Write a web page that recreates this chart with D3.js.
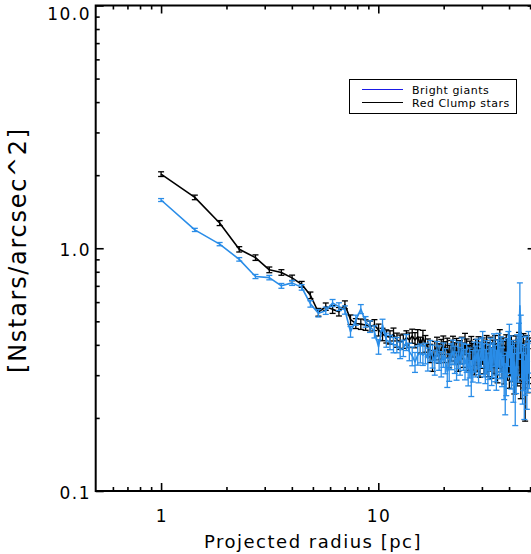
<!DOCTYPE html>
<html>
<head>
<meta charset="utf-8">
<script src="https://cdn.jsdelivr.net/npm/d3@7"></script>
<style>
  html, body { margin: 0; padding: 0; background: #fff; }
  svg { display: block; }
  text { font-family: "DejaVu Sans", sans-serif; fill: #000; }
</style>
</head>
<body>
<svg id="chart" width="531" height="554"></svg>
<script>
// ---------------- data ----------------
const radius = [
  1.00,1.43,1.86,2.29,2.72,3.15,3.58,4.01,4.44,4.87,
  5.30,5.73,6.16,6.59,7.02,7.45,7.88,8.31,8.74,9.17,
  9.60,10.03,10.46,10.89,11.32,11.75,12.18,12.61,13.04,13.47,
  13.90,14.33,14.76,15.19,15.62,16.05,16.48,16.91,17.34,17.77,
  18.20,18.63,19.06,19.49,19.92,20.35,20.78,21.21,21.64,22.07,
  22.50,22.93,23.36,23.79,24.22,24.65,25.08,25.51,25.94,26.37,
  26.80,27.23,27.66,28.09,28.52,28.95,29.38,29.81,30.24,30.67,
  31.10,31.53,31.96,32.39,32.82,33.25,33.68,34.11,34.54,34.97,
  35.40,35.83,36.26,36.69,37.12,37.55,37.98,38.41,38.84,39.27,
  39.70,40.13,40.56,40.99,41.42,41.85,42.28,42.71,43.14,43.57,
  44.00,44.43,44.86,45.29,45.72,46.15,46.58,47.01,47.44,47.87,
  48.30,48.73,49.16,49.59
];

const redClump = [
  2.02,1.62,1.27,0.99,0.915,0.815,0.795,0.755,0.71,0.64,
  0.545,0.575,0.56,0.548,0.585,0.508,0.49,0.487,0.483,0.476,
  0.483,0.461,0.442,0.434,0.43,0.442,0.419,0.411,0.415,0.428,
  0.419,0.435,0.419,0.432,0.40,0.428,
  0.405,0.39,0.37,0.345,0.38,0.395,0.37,0.385,0.40,0.375,
  0.39,0.36,0.38,0.395,0.37,0.385,0.35,0.375,0.39,0.365,
  0.405,0.38,0.355,0.37,0.39,0.36,0.345,0.375,0.355,0.385,
  0.34,0.365,0.38,0.35,0.37,0.39,0.345,0.36,0.38,0.34,
  0.37,0.355,0.385,0.35,0.33,0.37,0.41,0.36,0.345,0.375,
  0.33,0.36,0.385,0.34,0.365,0.32,0.355,0.38,0.34,0.36,
  0.31,0.35,0.375,0.33,0.36,0.39,0.34,0.31,0.37,0.345,
  0.38,0.33,0.26,0.35,0.37,0.32,0.345,0.36
];
const redClumpErr = [
  0.045,0.035,0.03,0.025,0.024,0.022,0.021,0.02,0.02,0.02,
  0.02,0.02,0.021,0.022,0.022,0.023,0.023,0.024,0.024,0.025,
  0.025,0.026,0.026,0.027,0.027,0.027,0.028,0.028,0.028,0.029,
  0.029,0.029,0.03,0.03,0.03,0.031,
  0.032,0.033,0.032,0.034,0.033,0.035,0.034,0.036,0.035,0.037,
  0.036,0.038,0.037,0.039,0.038,0.04,0.039,0.041,0.04,0.042,
  0.041,0.043,0.042,0.044,0.043,0.045,0.044,0.046,0.045,0.047,
  0.046,0.045,0.047,0.046,0.048,0.047,0.049,0.048,0.05,0.049,
  0.048,0.05,0.052,0.049,0.051,0.05,0.052,0.051,0.053,0.052,
  0.054,0.053,0.055,0.054,0.056,0.055,0.057,0.056,0.058,0.057,
  0.059,0.058,0.06,0.059,0.061,0.06,0.062,0.07,0.063,0.062,
  0.065,0.064,0.066,0.065,0.067,0.066,0.068,0.067
];

const brightGiants = [
  1.58,1.19,1.04,0.90,0.765,0.757,0.70,0.72,0.69,0.59,
  0.54,0.553,0.595,0.575,0.557,0.453,0.506,0.562,0.498,0.476,
  0.453,0.393,0.483,0.419,0.41,0.40,0.40,0.381,0.388,0.41,
  0.375,0.36,0.34,0.363,0.37,0.363,
  0.37,0.35,0.38,0.36,0.34,0.375,0.355,0.335,0.365,0.345,
  0.31,0.325,0.36,0.375,0.35,0.33,0.365,0.345,0.38,0.36,
  0.335,0.355,0.32,0.34,0.295,0.33,0.36,0.345,0.37,0.33,
  0.355,0.375,0.40,0.35,0.33,0.36,0.315,0.345,0.37,0.33,
  0.35,0.385,0.34,0.32,0.36,0.385,0.35,0.37,0.33,0.355,
  0.30,0.27,0.31,0.36,0.39,0.42,0.37,0.33,0.35,0.30,
  0.34,0.255,0.32,0.37,0.35,0.42,0.58,0.45,0.36,0.30,
  0.33,0.27,0.32,0.36,0.29,0.33,0.38,0.34
];
const brightGiantsErr = [
  0.022,0.018,0.016,0.015,0.015,0.016,0.016,0.017,0.018,0.018,
  0.019,0.019,0.02,0.021,0.022,0.023,0.024,0.024,0.025,0.026,
  0.026,0.027,0.027,0.028,0.028,0.029,0.029,0.03,0.03,0.031,
  0.031,0.032,0.032,0.033,0.033,0.034,
  0.036,0.038,0.037,0.039,0.04,0.038,0.041,0.04,0.042,0.041,
  0.043,0.042,0.044,0.043,0.045,0.044,0.046,0.045,0.047,0.046,
  0.048,0.047,0.049,0.048,0.05,0.049,0.051,0.05,0.052,0.051,
  0.053,0.052,0.054,0.055,0.053,0.056,0.055,0.057,0.056,0.058,
  0.057,0.059,0.058,0.06,0.059,0.061,0.06,0.062,0.061,0.063,
  0.062,0.064,0.063,0.065,0.064,0.066,0.065,0.067,0.066,0.068,
  0.067,0.069,0.068,0.07,0.069,0.071,0.14,0.08,0.07,0.072,
  0.071,0.073,0.072,0.074,0.073,0.075,0.074,0.076
];

const xMajorTicks = [1, 10];
const xTickLabels = ["1", "10"];
const xMinorTicks = [0.6,0.7,0.8,0.9,2,3,4,5,6,7,8,9,20,30,40,50];
const yMajorTicks = [0.1, 1, 10];
const yTickLabels = ["0.1", "1.0", "10.0"];
const yMinorTicks = [0.2,0.3,0.4,0.5,0.6,0.7,0.8,0.9,2,3,4,5,6,7,8,9];

const seriesNames = ["Bright giants", "Red Clump stars"];
const xTitle = "Projected radius [pc]";
const yTitle = "[Nstars/arcsec^2]";

// ---------------- drawing ----------------
const svg = d3.select("#chart");
const plotL = 95.7, plotR = 535.6, plotT = 5.5, plotB = 491;
const x = d3.scaleLog().domain([0.5, 53]).range([plotL, plotR]);
const y = d3.scaleLog().domain([0.1, 10]).range([plotB, plotT]);

const axisColor = "#000";
const blue = "#2a8de8";

function rows(vals, errs) {
  return radius.map((r, i) => ({ r, v: vals[i], e: errs[i] }));
}
const rc = rows(redClump, redClumpErr);
const bg = rows(brightGiants, brightGiantsErr);

function drawSeries(data, color) {
  const g = svg.append("g");
  g.append("path")
    .datum(data)
    .attr("fill", "none")
    .attr("stroke", color)
    .attr("stroke-width", 1.6)
    .attr("stroke-linejoin", "round")
    .attr("d", d3.line().x(d => x(d.r)).y(d => y(d.v)));
  const eb = g.selectAll("g.eb").data(data).join("g").attr("class", "eb")
    .attr("stroke", color).attr("stroke-width", 1.3);
  eb.append("line")
    .attr("x1", d => x(d.r)).attr("x2", d => x(d.r))
    .attr("y1", d => y(d.v - d.e)).attr("y2", d => y(d.v + d.e));
  eb.append("line")
    .attr("x1", d => x(d.r) - 3).attr("x2", d => x(d.r) + 3)
    .attr("y1", d => y(d.v - d.e)).attr("y2", d => y(d.v - d.e));
  eb.append("line")
    .attr("x1", d => x(d.r) - 3).attr("x2", d => x(d.r) + 3)
    .attr("y1", d => y(d.v + d.e)).attr("y2", d => y(d.v + d.e));
}
drawSeries(rc, "#000");
drawSeries(bg, blue);

// axes (major + minor), on all four sides
function styleAxis(g) {
  g.selectAll(".domain").remove();
  g.selectAll(".tick line").attr("stroke", axisColor).attr("stroke-width", 1.6);
  g.selectAll(".tick text").remove();
}
svg.append("g").attr("transform", `translate(0,${plotB})`)
  .call(d3.axisTop(x).tickValues(xMajorTicks).tickSize(8)).call(styleAxis);
svg.append("g").attr("transform", `translate(0,${plotB})`)
  .call(d3.axisTop(x).tickValues(xMinorTicks).tickSize(4)).call(styleAxis);
svg.append("g").attr("transform", `translate(0,${plotT})`)
  .call(d3.axisBottom(x).tickValues(xMajorTicks).tickSize(8)).call(styleAxis);
svg.append("g").attr("transform", `translate(0,${plotT})`)
  .call(d3.axisBottom(x).tickValues(xMinorTicks).tickSize(4)).call(styleAxis);
svg.append("g").attr("transform", `translate(${plotL},0)`)
  .call(d3.axisRight(y).tickValues(yMajorTicks).tickSize(8)).call(styleAxis);
svg.append("g").attr("transform", `translate(${plotL},0)`)
  .call(d3.axisRight(y).tickValues(yMinorTicks).tickSize(4)).call(styleAxis);
svg.append("g").attr("transform", `translate(${plotR},0)`)
  .call(d3.axisLeft(y).tickValues(yMajorTicks).tickSize(8)).call(styleAxis);
svg.append("g").attr("transform", `translate(${plotR},0)`)
  .call(d3.axisLeft(y).tickValues(yMinorTicks).tickSize(4)).call(styleAxis);

// frame
svg.append("rect")
  .attr("x", plotL).attr("y", plotT)
  .attr("width", plotR - plotL).attr("height", plotB - plotT)
  .attr("fill", "none").attr("stroke", axisColor).attr("stroke-width", 2);

// tick labels
svg.selectAll("text.xl").data(xMajorTicks).join("text").attr("class", "xl")
  .attr("x", d => x(d) + 0.8).attr("y", 522)
  .attr("text-anchor", "middle")
  .style("font-size", "17px").style("letter-spacing", "1.5px")
  .text((d, i) => xTickLabels[i]);
svg.selectAll("text.yl").data(yMajorTicks).join("text").attr("class", "yl")
  .attr("x", 91).attr("y", (d, i) => y(d) + (i === yMajorTicks.length - 1 ? 14.5 : 8))
  .attr("text-anchor", "end")
  .style("font-size", "17px").style("letter-spacing", "1.5px")
  .text((d, i) => yTickLabels[i]);

// axis titles
svg.append("text")
  .attr("x", 313).attr("y", 548)
  .attr("text-anchor", "middle")
  .style("font-size", "18px").style("letter-spacing", "1.5px")
  .text(xTitle);
svg.append("text")
  .attr("transform", "translate(26,250) rotate(-90)")
  .attr("text-anchor", "middle")
  .style("font-size", "24px").style("letter-spacing", "1.7px")
  .text(yTitle);

// legend
const lg = svg.append("g");
lg.append("rect").attr("x", 349.5).attr("y", 79.5).attr("width", 167).attr("height", 34)
  .attr("fill", "#fff").attr("stroke", "#000").attr("stroke-width", 1);
const legendColors = ["#1a1ae6", "#000"];
seriesNames.forEach((name, i) => {
  const yy = 89.5 + i * 13;
  lg.append("line").attr("x1", 362).attr("x2", 403).attr("y1", yy).attr("y2", yy)
    .attr("stroke", legendColors[i]).attr("stroke-width", 1.2);
  lg.append("text").attr("x", 412).attr("y", yy + 4.2)
    .style("font-size", "11px").style("letter-spacing", "0.5px")
    .text(name);
});

// sanity check on array lengths
if (![redClump, redClumpErr, brightGiants, brightGiantsErr].every(a => a.length === radius.length)) {
  svg.append("text").attr("x", 200).attr("y", 150).style("fill", "red").text("LENGTH MISMATCH");
}
</script>
</body>
</html>
